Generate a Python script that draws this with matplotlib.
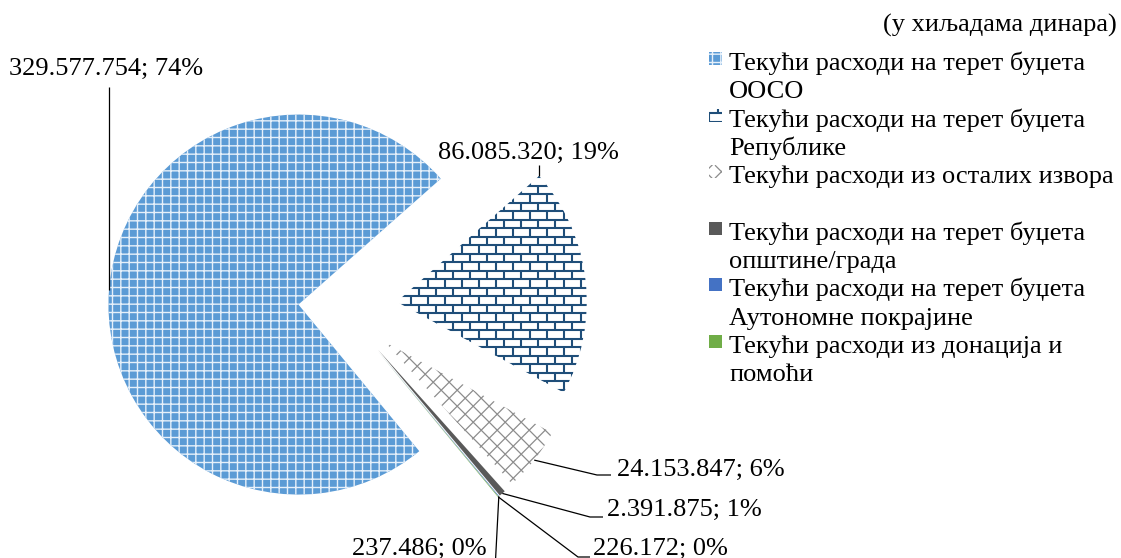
import matplotlib.pyplot as plt
import matplotlib.patches as mpatches
from matplotlib.collections import LineCollection
import numpy as np

W, H = 1121, 558

plt.rcParams['font.family'] = ['Liberation Serif', 'DejaVu Serif']
plt.rcParams['hatch.linewidth'] = 1.0

# podaci
labels = ['Текући расходи на терет буџета\nООСО',
          'Текући расходи на терет буџета\nРепублике',
          'Текући расходи из осталих извора\n',
          'Текући расходи на терет буџета\nопштине/града',
          'Текући расходи на терет буџета\nАутономне покрајине',
          'Текући расходи из донација и\nпомоћи']
values = [329577754, 86085320, 24153847, 2391875, 237486, 226172]
percents = ['74%', '19%', '6%', '1%', '0%', '0%']
unit_note = '(у хиљадама динара)'

# stil
R = 190
colors = ['#5B9BD5', 'white', 'white', '#595959', '#4472C4', '#70AD47']
hatches = ['++', None, None, None, None, None]
hatch_colors = ['#e6f0fa', None, None, None, None, None]
patterns = [None, 'brick', 'diamond', None, None, None]
explode = [0.23, 0.29, 0.29, 0.29, 0.29, 0.29]
FS = 19


def yy(y):
    # pikseli od vrha -> koordinate osa
    return H - y


def brick_fill(ax, patch, x0, x1, y0, y1, color='#1F4E79', rh=8.5, bw=17):
    segs = []
    rows = np.arange(y0, y1 + rh, rh)
    for k, r in enumerate(rows):
        segs.append([(x0, r), (x1, r)])
        off = (k % 2) * bw / 2
        for x in np.arange(x0 + off, x1 + bw, bw):
            segs.append([(x, r), (x, r + rh)])
    lc = LineCollection(segs, colors=color, linewidths=1.5)
    ax.add_collection(lc)
    lc.set_clip_path(patch)


def diamond_fill(ax, patch, x0, x1, y0, y1, color='#8c8c8c', step=16):
    segs = []
    span = (x1 - x0) + (y1 - y0)
    for s in np.arange(-span, span, step):
        segs.append([(x0 + s, y0), (x0 + s + span, y0 + span)])
        segs.append([(x0 + s, y1), (x0 + s + span, y1 - span)])
    lc = LineCollection(segs, colors=color, linewidths=0.9)
    ax.add_collection(lc)
    lc.set_clip_path(patch)


def fill(ax, patch, kind, x0, x1, y0, y1):
    if kind == 'brick':
        brick_fill(ax, patch, x0, x1, y0, y1)
    elif kind == 'diamond':
        diamond_fill(ax, patch, x0, x1, y0, y1)


fig = plt.figure(figsize=(W / 100, H / 100), dpi=100)
ax = fig.add_axes([0, 0, 1, 1])

# explode u pie ide u jedinicama podataka, zato * R
wedges, _ = ax.pie(values, explode=[e * R for e in explode], startangle=309.5,
                   counterclock=False, radius=R, center=(342, yy(308)),
                   colors=colors, wedgeprops=dict(linewidth=0))

for w, h, hc, p in zip(wedges, hatches, hatch_colors, patterns):
    if h:
        w.set_hatch(h)
        w.set_edgecolor(hc)
        w.set_linewidth(0)
    if p:
        cx, cy = w.center
        fill(ax, w, p, cx - w.r, cx + w.r, cy - w.r, cy + w.r)

# oznake sa linijama
label_pos = [(106, 75, 'center'), (528, 159, 'center'), (617, 476, 'left'),
             (607, 516, 'left'), (487, 555, 'right'), (593, 555, 'left')]
elbows = [[(None, 87)], [(None, 165)], [(597, 475), (611, 475)],
          [(590, 517), (603, 517)], [(495, 570)], [(578, 557), (590, 557)]]

for i, w in enumerate(wedges):
    ang = w.theta2 if i == 1 else (w.theta1 + w.theta2) / 2
    cx, cy = w.center
    ax0 = cx + w.r * np.cos(np.radians(ang))
    ay0 = cy + w.r * np.sin(np.radians(ang))
    xs, ys = [ax0], [ay0]
    for ex, ey in elbows[i]:
        xs.append(ax0 if ex is None else ex)
        ys.append(yy(ey))
    ax.plot(xs, ys, color='black', lw=0.9, solid_capstyle='butt')
    txt = f"{values[i]:,}".replace(',', '.') + '; ' + percents[i]
    lx, ly, ha = label_pos[i]
    ax.text(lx, yy(ly), txt, ha=ha, va='baseline', fontsize=FS)

# legenda
for i, lab in enumerate(labels):
    base = 70 + 56.6 * i
    rect = mpatches.Rectangle((709, yy(base - 5)), 13, 13, facecolor=colors[i], linewidth=0)
    if hatches[i]:
        rect.set_hatch(hatches[i])
        rect.set_edgecolor(hatch_colors[i])
    ax.add_patch(rect)
    if patterns[i]:
        fill(ax, rect, patterns[i], 709, 722, yy(base - 5), yy(base - 18))
    for k, line in enumerate(lab.split('\n')):
        ax.text(729, yy(base + 28.3 * k), line, ha='left', va='baseline', fontsize=FS)

ax.text(1117, yy(32), unit_note, ha='right', va='baseline', fontsize=FS)

ax.set_aspect('auto')
ax.set_xlim(0, W)
ax.set_ylim(0, H)
ax.axis('off')

plt.savefig('out.png', dpi=100)
